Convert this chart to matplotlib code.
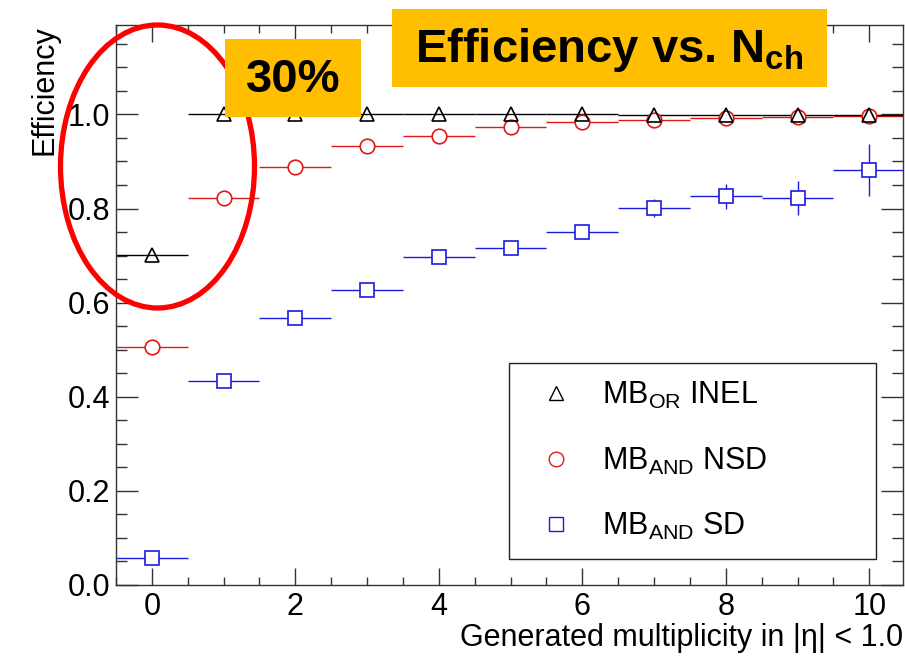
import numpy as np
import matplotlib
matplotlib.use('Agg')
import matplotlib.pyplot as plt
from matplotlib.lines import Line2D
from matplotlib.patches import Ellipse, Rectangle
from matplotlib.ticker import MultipleLocator

plt.rcParams['font.family'] = ['Liberation Sans', 'DejaVu Sans']
plt.rcParams['mathtext.fontset'] = 'custom'
plt.rcParams['mathtext.rm'] = 'Liberation Sans'
plt.rcParams['mathtext.it'] = 'Liberation Sans:italic'
plt.rcParams['mathtext.bf'] = 'Liberation Sans:bold'

#multiplicity bins
n_ch = np.arange(0, 11)

#MB_OR trigger, inelastic events
eff_inel = [0.702, 1.0, 1.0, 1.0, 1.0, 1.0, 1.0, 0.999, 0.998, 0.998, 0.998]
err_inel = [0.0] * 11

#MB_AND trigger, non single diffractive
eff_nsd = [0.506, 0.823, 0.889, 0.932, 0.955, 0.974, 0.983, 0.989, 0.993, 0.995, 0.996]
err_nsd = [0.0] * 11

#MB_AND trigger, single diffractive
eff_sd = [0.058, 0.434, 0.568, 0.626, 0.696, 0.716, 0.751, 0.801, 0.826, 0.822, 0.882]
err_sd = [0.0, 0.003, 0.004, 0.005, 0.006, 0.006, 0.012, 0.020, 0.027, 0.036, 0.056]

labels = [r'MB$_{\rm OR}$ INEL', r'MB$_{\rm AND}$ NSD', r'MB$_{\rm AND}$ SD']

c_red = '#e01818'
c_blue = '#1a1ae0'

fig = plt.figure(figsize=(9.05, 6.57), dpi=100)
ax = fig.add_axes([116 / 905, 72 / 657, 787 / 905, 560 / 657])

#blue squares first, then red circles, black triangles on top
ax.errorbar(n_ch, eff_sd, xerr=0.5, yerr=err_sd, fmt='s', ms=10, mfc='white',
            mec=c_blue, mew=1.2, ecolor=c_blue, elinewidth=1.0, capsize=0)
ax.errorbar(n_ch, eff_nsd, xerr=0.5, yerr=err_nsd, fmt='o', ms=10.5, mfc='white',
            mec=c_red, mew=1.2, ecolor=c_red, elinewidth=1.0, capsize=0)
ax.errorbar(n_ch, eff_inel, xerr=0.5, yerr=err_inel, fmt='^', ms=10, mfc='none',
            mec='black', mew=1.2, ecolor='black', elinewidth=1.0, capsize=0)

ax.set_xlim(-0.5, 10.47)
ax.set_ylim(0.0, 1.19)

ax.xaxis.set_major_locator(MultipleLocator(2))
ax.xaxis.set_minor_locator(MultipleLocator(0.5))
ax.yaxis.set_major_locator(MultipleLocator(0.2))
ax.yaxis.set_minor_locator(MultipleLocator(0.05))
ax.yaxis.set_major_formatter(matplotlib.ticker.FormatStrFormatter('%.1f'))

ax.tick_params(which='both', direction='in', top=True, right=True,
               labelsize=22, width=1.0, color='#333333')
ax.tick_params(axis='x', which='major', length=12, pad=5)
ax.tick_params(axis='x', which='minor', length=6)
ax.tick_params(axis='y', which='major', length=16, pad=4)
ax.tick_params(axis='y', which='minor', length=8)
for sp in ax.spines.values():
    sp.set_linewidth(1.0)
    sp.set_color('#333333')

ax.set_xlabel('Generated multiplicity in |η| < 1.0', fontsize=22,
              ha='right', x=1.0, labelpad=1)
ax.set_ylabel('Efficiency', fontsize=22, ha='right', y=1.0, labelpad=6)

#legend with markers only
handles = [Line2D([], [], ls='none', marker='^', ms=10, mfc='none', mec='black', mew=1.0),
           Line2D([], [], ls='none', marker='o', ms=10.5, mfc='none', mec=c_red, mew=1.0),
           Line2D([], [], ls='none', marker='s', ms=10, mfc='none', mec=c_blue, mew=1.0)]
leg = ax.legend(handles, labels, loc='lower left', bbox_to_anchor=(0.4994, 0.0464, 0.4663, 0.352),
                mode='expand', fontsize=22, frameon=True, fancybox=False, edgecolor='#222222',
                framealpha=1, borderpad=0.55, labelspacing=1.13, handlelength=2.0,
                handletextpad=0.5, borderaxespad=0)
leg.get_frame().set_linewidth(1.0)

#highlight around the lowest bins
ell = Ellipse((157.5 / 905, 1 - 166.5 / 657), 194 / 905, 283 / 657,
              transform=fig.transFigure, fill=False, ec='#ff0000', lw=3.8, zorder=5)
fig.patches.append(ell)

#annotation boxes
box_color = '#ffbf00'
fig.patches.append(Rectangle((225 / 905, 1 - 117 / 657), 136 / 905, 78 / 657,
                             transform=fig.transFigure, fc=box_color, ec='none', zorder=6))
fig.text(293 / 905, 1 - 80 / 657, '30%', fontsize=34, fontweight='bold',
         ha='center', va='center', zorder=7)
fig.patches.append(Rectangle((392 / 905, 1 - 87 / 657), 435 / 905, 78 / 657,
                             transform=fig.transFigure, fc=box_color, ec='none', zorder=6))
fig.text(609 / 905, 1 - 50 / 657, r'Efficiency vs. N$_{\mathbf{ch}}$', fontsize=34,
         fontweight='bold', ha='center', va='center', zorder=7)

fig.savefig('out.png', dpi=100)
